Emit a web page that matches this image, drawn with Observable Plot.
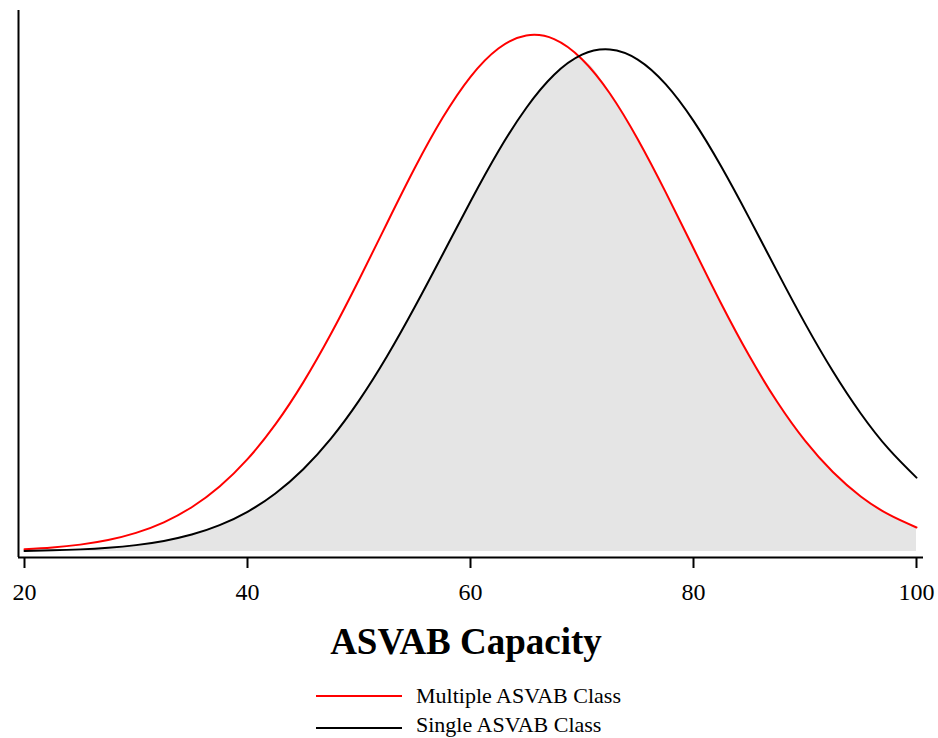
<!DOCTYPE html>
<html>
<head>
<meta charset="utf-8">
<script src="https://cdn.jsdelivr.net/npm/d3@7"></script>
<script src="https://cdn.jsdelivr.net/npm/@observablehq/plot@0.6"></script>
<style>
  html, body { margin: 0; padding: 0; background: #fff; }
  #wrap { position: relative; width: 938px; height: 738px; overflow: hidden;
          font-family: "Liberation Serif", "Times New Roman", serif; color: #000; }
  #chart { position: absolute; left: 0; top: 0; }
  #title { position: absolute; left: 0; width: 932px; top: 623px; text-align: center;
           font-weight: bold; font-size: 37px; line-height: 37px; white-space: nowrap; }
  .sw { position: absolute; left: 316px; width: 86px; height: 2px; }
  .lt { position: absolute; left: 416px; font-size: 22px; line-height: 22px; white-space: nowrap; }
</style>
</head>
<body>
<div id="wrap">
  <div id="chart"></div>
  <div id="title"></div>
  <div id="legend"></div>
</div>
<script>
// ---- data ----
const capacity = [20, 22.5, 25, 27.5, 30, 32.5, 35, 37.5, 40, 42.5, 45, 47.5, 50, 52.5, 55, 57.5,
                  60, 62.5, 65, 67.5, 70, 72.5, 75, 77.5, 80, 82.5, 85, 87.5, 90, 92.5, 95, 97.5, 100];
const multipleDensity = [0.000124, 0.000222, 0.000384, 0.000642, 0.001039, 0.001628, 0.002469, 0.003624,
                  0.005148, 0.007084, 0.009430, 0.01215, 0.01515, 0.01829, 0.02138, 0.02418,
                  0.02647, 0.02805, 0.02877, 0.02857, 0.02745, 0.02554, 0.02299, 0.02004,
                  0.01691, 0.01380, 0.01091, 0.008346, 0.006180, 0.004431, 0.003071, 0.002065, 0.001341];
const singleDensity = [0.000035, 0.0000655, 0.000119, 0.000209, 0.000356, 0.000589, 0.000944, 0.001469,
                  0.002215, 0.003237, 0.004589, 0.006308, 0.008411, 0.01087, 0.01363, 0.01656,
                  0.01952, 0.02232, 0.02473, 0.02658, 0.02770, 0.02799, 0.02743, 0.02606,
                  0.02401, 0.02145, 0.01859, 0.01562, 0.01272, 0.01005, 0.007697, 0.005718, 0.004119];
const seriesNames = ["Multiple ASVAB Class", "Single ASVAB Class"];
const seriesColors = ["#ff0000", "#000000"];
const xTicks = [20, 40, 60, 80, 100];
const xTitle = "ASVAB Capacity";

// ---- table ----
const rows = capacity.map((c, i) => ({
  capacity: c,
  multiple: multipleDensity[i],
  single: singleDensity[i],
  overlap: Math.min(multipleDensity[i], singleDensity[i])
}));

const xDomain = [19.462, 100.628];
const yDomain = [-0.000334, 0.030165];
const curve = "natural";

const chart = Plot.plot({
  width: 938,
  height: 615,
  marginLeft: 18,
  marginRight: 15,
  marginTop: 10,
  marginBottom: 58,
  style: { fontFamily: "'Liberation Serif', 'Times New Roman', serif", fontSize: "24px", color: "#000", background: "#fff" },
  x: { domain: xDomain, axis: null },
  y: { domain: yDomain, axis: null },
  marks: [
    Plot.areaY(rows, { x: "capacity", y: "overlap", fill: "#e5e5e5", curve }),
    Plot.lineY(rows, { x: "capacity", y: "multiple", stroke: seriesColors[0], strokeWidth: 2, curve }),
    Plot.lineY(rows, { x: "capacity", y: "single", stroke: seriesColors[1], strokeWidth: 2, curve }),
    Plot.ruleY([yDomain[0]], { stroke: "#000", strokeWidth: 2 }),
    Plot.ruleX([xDomain[0]], { stroke: "#000", strokeWidth: 2 }),
    Plot.axisX(xTicks, { anchor: "bottom", tickSize: 11, tickPadding: 14, strokeWidth: 2,
                         fontSize: 24, label: null, tickFormat: d => String(d) })
  ]
});
document.getElementById("chart").appendChild(chart);

document.getElementById("title").textContent = xTitle;

const legend = document.getElementById("legend");
const swTops = [695, 727];
const txTops = [685, 714];
seriesNames.forEach((name, i) => {
  const sw = document.createElement("div");
  sw.className = "sw";
  sw.style.top = swTops[i] + "px";
  sw.style.background = seriesColors[i];
  legend.appendChild(sw);
  const t = document.createElement("div");
  t.className = "lt";
  t.style.top = txTops[i] + "px";
  t.textContent = name;
  legend.appendChild(t);
});
</script>
</body>
</html>
